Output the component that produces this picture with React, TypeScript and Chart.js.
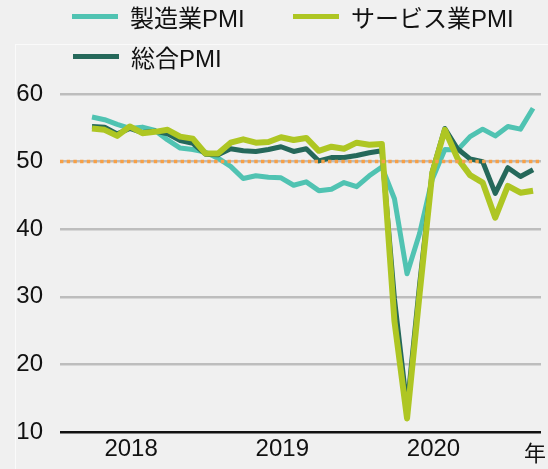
import React, { useEffect, useRef } from "react";
import { Chart, registerables } from "chart.js";

Chart.register(...registerables);

// Monthly, Mar 2018 .. Feb 2021
const MONTHS: string[] = [
  "2018-03","2018-04","2018-05","2018-06","2018-07","2018-08","2018-09","2018-10","2018-11","2018-12",
  "2019-01","2019-02","2019-03","2019-04","2019-05","2019-06","2019-07","2019-08","2019-09","2019-10","2019-11","2019-12",
  "2020-01","2020-02","2020-03","2020-04","2020-05","2020-06","2020-07","2020-08","2020-09","2020-10","2020-11","2020-12",
  "2021-01","2021-02",
];
const MANUFACTURING: number[] = [
  56.6, 56.2, 55.5, 54.9, 55.1, 54.6, 53.2, 52.0, 51.8, 51.4,
  50.5, 49.3, 47.5, 47.9, 47.7, 47.6, 46.5, 47.0, 45.7, 45.9, 46.9, 46.3,
  47.9, 49.2, 44.5, 33.4, 39.4, 47.4, 51.8, 51.7, 53.7, 54.8, 53.8, 55.2,
  54.8, 57.9,
];
const SERVICES: number[] = [
  54.9, 54.7, 53.8, 55.2, 54.2, 54.4, 54.7, 53.7, 53.4, 51.2,
  51.2, 52.8, 53.3, 52.8, 52.9, 53.6, 53.2, 53.5, 51.6, 52.2, 51.9, 52.8,
  52.5, 52.6, 26.4, 12.0, 30.5, 48.3, 54.7, 50.5, 48.0, 46.9, 41.7, 46.4,
  45.4, 45.7,
];
const COMPOSITE: number[] = [
  55.2, 55.1, 54.1, 54.9, 54.3, 54.5, 54.1, 53.1, 52.7, 51.1,
  51.0, 51.9, 51.6, 51.5, 51.8, 52.2, 51.5, 51.9, 50.1, 50.6, 50.6, 50.9,
  51.3, 51.6, 29.7, 13.6, 31.9, 48.5, 54.9, 51.9, 50.4, 50.0, 45.3, 49.1,
  47.8, 48.8,
];
const SERIES_NAMES: string[] = ["製造業PMI", "サービス業PMI", "総合PMI"];
const YEAR_LABELS: string[] = ["2018", "2019", "2020"];
const YEAR_TICK_POS: number[] = [3.1, 15.1, 27.1]; // mid-year positions (month index)
const Y_TICKS: number[] = [10, 20, 30, 40, 50, 60];
const THRESHOLD = 50;
const X_UNIT_LABEL = "年";

const COLORS = {
  manufacturing: "#50C3B2",
  services: "#AEC623",
  composite: "#25685A",
  threshold: "#F7A046",
  grid: "#BDBDBD",
  bg: "#F0F0F0",
};

const FONT = '"Liberation Sans", Arial, "Noto Sans CJK JP", sans-serif';

export default function App() {
  const ref = useRef<HTMLCanvasElement | null>(null);

  useEffect(() => {
    if (!ref.current) return;
    const toPts = (arr: number[]) => arr.map((y, i) => ({ x: i, y }));

    const overlay = {
      id: "overlay",
      afterDatasetsDraw(chart: any) {
        const { ctx, chartArea, scales } = chart;
        const y = scales.y.getPixelForValue(THRESHOLD);
        ctx.save();
        ctx.strokeStyle = COLORS.threshold;
        ctx.lineWidth = 3.5;
        ctx.setLineDash([3.4, 3.3]);
        ctx.beginPath();
        ctx.moveTo(chartArea.left, y);
        ctx.lineTo(chartArea.right, y);
        ctx.stroke();
        ctx.restore();
      },
      afterDraw(chart: any) {
        const { ctx } = chart;
        ctx.save();
        ctx.fillStyle = "#111";
        ctx.font = `22px ${FONT}`;
        ctx.textAlign = "center";
        ctx.textBaseline = "middle";
        ctx.fillText(X_UNIT_LABEL, 535, 455);
        ctx.restore();
      },
    };

    const chart = new Chart(ref.current, {
      type: "line",
      data: {
        labels: MONTHS,
        datasets: [
          {
            label: SERIES_NAMES[0],
            data: toPts(MANUFACTURING),
            borderColor: COLORS.manufacturing,
            borderWidth: 5,
            pointRadius: 0,
            tension: 0,
            borderJoinStyle: "round",
            order: 3,
          },
          {
            label: SERIES_NAMES[1],
            data: toPts(SERVICES),
            borderColor: COLORS.services,
            borderWidth: 6,
            pointRadius: 0,
            tension: 0,
            borderJoinStyle: "round",
            order: 1,
          },
          {
            label: SERIES_NAMES[2],
            data: toPts(COMPOSITE),
            borderColor: COLORS.composite,
            borderWidth: 5,
            pointRadius: 0,
            tension: 0,
            borderJoinStyle: "round",
            order: 2,
          },
        ],
      },
      options: {
        responsive: false,
        animation: false,
        layout: { padding: { top: 94, right: 7, left: 0, bottom: 0 } },
        plugins: { legend: { display: false }, tooltip: { enabled: false } },
        scales: {
          x: {
            type: "linear",
            min: -2.54,
            max: 35.63,
            grid: { display: false, drawTicks: false },
            border: { display: false },
            afterBuildTicks: (scale: any) => {
              scale.ticks = YEAR_TICK_POS.map((v) => ({ value: v }));
            },
            afterFit: (scale: any) => {
              scale.height = 37;
            },
            ticks: {
              autoSkip: false,
              maxRotation: 0,
              padding: 3,
              color: "#111",
              font: { family: FONT, size: 24 },
              callback: (_v: any, i: number) => YEAR_LABELS[i],
            },
          },
          y: {
            min: 10,
            max: 60,
            afterBuildTicks: (scale: any) => {
              scale.ticks = Y_TICKS.map((v) => ({ value: v }));
            },
            afterFit: (scale: any) => {
              scale.width = 60;
            },
            grid: {
              drawTicks: false,
              color: (c: any) => (c.tick && c.tick.value === 10 ? "#111" : COLORS.grid),
              lineWidth: 2.5,
            },
            border: { display: false },
            ticks: {
              padding: 17,
              color: "#111",
              font: { family: FONT, size: 24 },
            },
          },
        },
      },
      plugins: [overlay],
    } as any);

    return () => chart.destroy();
  }, []);

  const legendItem = (color: string, text: string, left: number, top: number) => (
    <div
      style={{
        position: "absolute",
        left,
        top,
        height: 32,
        display: "flex",
        alignItems: "center",
        fontFamily: FONT,
        fontSize: 24,
        color: "#111",
        whiteSpace: "nowrap",
      }}
    >
      <span style={{ display: "inline-block", width: 46, height: 5, background: color, marginRight: 12 }} />
      <span>{text}</span>
    </div>
  );

  return (
    <div
      style={{
        position: "absolute",
        left: 0,
        top: 0,
        width: 548,
        height: 469,
        background: COLORS.bg,
        overflow: "hidden",
      }}
    >
      <div
        style={{
          position: "absolute",
          left: 15,
          top: 44,
          width: 540,
          height: 440,
          borderLeft: "1px solid #FAFAFA",
          borderTop: "1px solid #FAFAFA",
        }}
      />
      <canvas ref={ref} width={548} height={469} style={{ position: "absolute", left: 0, top: 0 }} />
      {legendItem(COLORS.manufacturing, SERIES_NAMES[0], 72, 0)}
      {legendItem(COLORS.services, SERIES_NAMES[1], 293, 0)}
      {legendItem(COLORS.composite, SERIES_NAMES[2], 73, 40)}
    </div>
  );
}
